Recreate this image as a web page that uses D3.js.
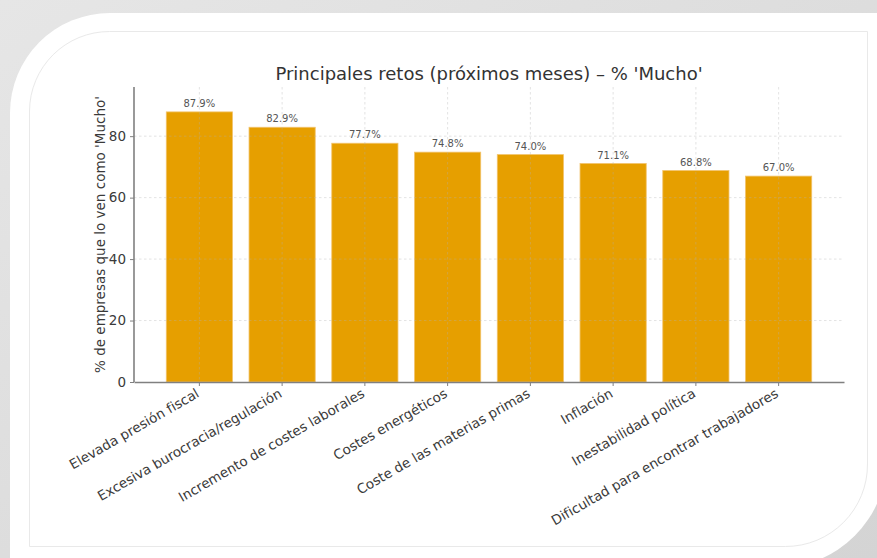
<!DOCTYPE html>
<html lang="es">
<head>
<meta charset="UTF-8">
<title>Principales retos</title>
<script src="https://d3js.org/d3.v7.min.js"></script>
<style>
  body { margin: 0; background: #dcdcdc; }
  svg { display: block; }
  text { font-family: "DejaVu Sans", sans-serif; }
</style>
</head>
<body>
<script>
const width = 877
const height = 558

// datos
const categories = [
  "Elevada presión fiscal",
  "Excesiva burocracia/regulación",
  "Incremento de costes laborales",
  "Costes energéticos",
  "Coste de las materias primas",
  "Inflación",
  "Inestabilidad política",
  "Dificultad para encontrar trabajadores"
]
const values = [87.9, 82.9, 77.7, 74.8, 74.0, 71.1, 68.8, 67.0]
const yTicks = [0, 20, 40, 60, 80]

const data = categories.map((c, i) => ({ name: c, value: values[i] }))

const svg = d3.select("body").append("svg")
  .attr("width", width)
  .attr("height", height)

// fondo + tarjeta
const defs = svg.append("defs")
const bg = defs.append("linearGradient").attr("id", "bg")
  .attr("x1", 0).attr("y1", 0).attr("x2", 1).attr("y2", 1)
bg.append("stop").attr("offset", "0%").attr("stop-color", "#e6e6e6")
bg.append("stop").attr("offset", "100%").attr("stop-color", "#d4d4d4")

svg.append("rect").attr("width", width).attr("height", height).attr("fill", "url(#bg)")

svg.append("path")
  .attr("d", "M10,113 A100,100 0 0 1 110,13 H887 V458 A110,110 0 0 1 777,568 H10 Z")
  .attr("fill", "#fff")

svg.append("path")
  .attr("d", "M29.5,111 A80,80 0 0 1 109.5,31.5 H867.5 V464 A82,82 0 0 1 785.5,546.5 H29.5 Z")
  .attr("fill", "none")
  .attr("stroke", "#e9e9e9")
  .attr("stroke-width", 1)

// escalas
const x = d3.scaleBand()
  .domain(categories)
  .range([134, 844])
  .paddingInner(0.2)
  .paddingOuter(0.39)

const y = d3.scaleLinear()
  .domain([0, 96])
  .range([382, 87])

// barras
svg.append("g").selectAll("rect")
  .data(data)
  .enter()
  .append("rect")
  .attr("x", d => x(d.name))
  .attr("y", d => y(d.value))
  .attr("width", x.bandwidth())
  .attr("height", d => y(0) - y(d.value))
  .attr("fill", "#e69f00")
  .attr("stroke", "#f2c36b")
  .attr("stroke-width", 0.8)

// rejilla
const grid = svg.append("g")
  .attr("stroke", "#b0b0b0")
  .attr("stroke-opacity", 0.45)
  .attr("stroke-dasharray", "2.5,2.5")
  .attr("stroke-width", 0.8)

grid.selectAll(".gy")
  .data(yTicks.slice(1))
  .enter()
  .append("line")
  .attr("x1", 134).attr("x2", 844)
  .attr("y1", d => y(d)).attr("y2", d => y(d))

grid.selectAll(".gx")
  .data(categories)
  .enter()
  .append("line")
  .attr("x1", d => x(d) + x.bandwidth() / 2)
  .attr("x2", d => x(d) + x.bandwidth() / 2)
  .attr("y1", y(96)).attr("y2", y(0))

// etiquetas de valor
svg.append("g").selectAll("text")
  .data(data)
  .enter()
  .append("text")
  .attr("x", d => x(d.name) + x.bandwidth() / 2)
  .attr("y", d => y(d.value) - 5)
  .attr("text-anchor", "middle")
  .attr("fill", "#555")
  .style("font-size", "10px")
  .text(d => d.value.toFixed(1) + "%")

// eje Y
const yAxis = svg.append("g")
  .attr("transform", "translate(134,0)")
  .call(d3.axisLeft(y).tickValues(yTicks).tickSize(4).tickPadding(4))
yAxis.select(".domain").attr("stroke", "#808080").attr("stroke-width", 1.6)
  .attr("d", `M0,${y(96)}V${y(0)}`)
yAxis.selectAll(".tick line").attr("stroke", "#808080")
yAxis.selectAll(".tick text")
  .attr("fill", "#3a3a3a")
  .style("font-size", "13.5px")
  .style("font-family", "DejaVu Sans, sans-serif")

// eje X
const xAxis = svg.append("g")
  .attr("transform", `translate(0,${y(0)})`)
  .call(d3.axisBottom(x).tickSize(4).tickSizeOuter(0))
xAxis.select(".domain").attr("stroke", "#808080").attr("stroke-width", 1.6)
xAxis.selectAll(".tick line").attr("stroke", "#808080")
xAxis.selectAll(".tick text")
  .attr("fill", "#3a3a3a")
  .style("font-size", "13.5px")
  .style("font-family", "DejaVu Sans, sans-serif")
  .attr("text-anchor", "end")
  .attr("x", 0)
  .attr("y", 0)
  .attr("dy", "0.7em")
  .attr("transform", "translate(-4,6) rotate(-30)")

// titulo del eje Y
svg.append("text")
  .attr("transform", `translate(105,${(y(0) + y(96)) / 2}) rotate(-90)`)
  .attr("text-anchor", "middle")
  .attr("fill", "#3a3a3a")
  .style("font-size", "13.5px")
  .text("% de empresas que lo ven como 'Mucho'")

// titulo
svg.append("text")
  .attr("x", 489)
  .attr("y", 80)
  .attr("text-anchor", "middle")
  .attr("fill", "#333")
  .style("font-size", "18px")
  .text("Principales retos (próximos meses) – % 'Mucho'")
</script>
</body>
</html>
